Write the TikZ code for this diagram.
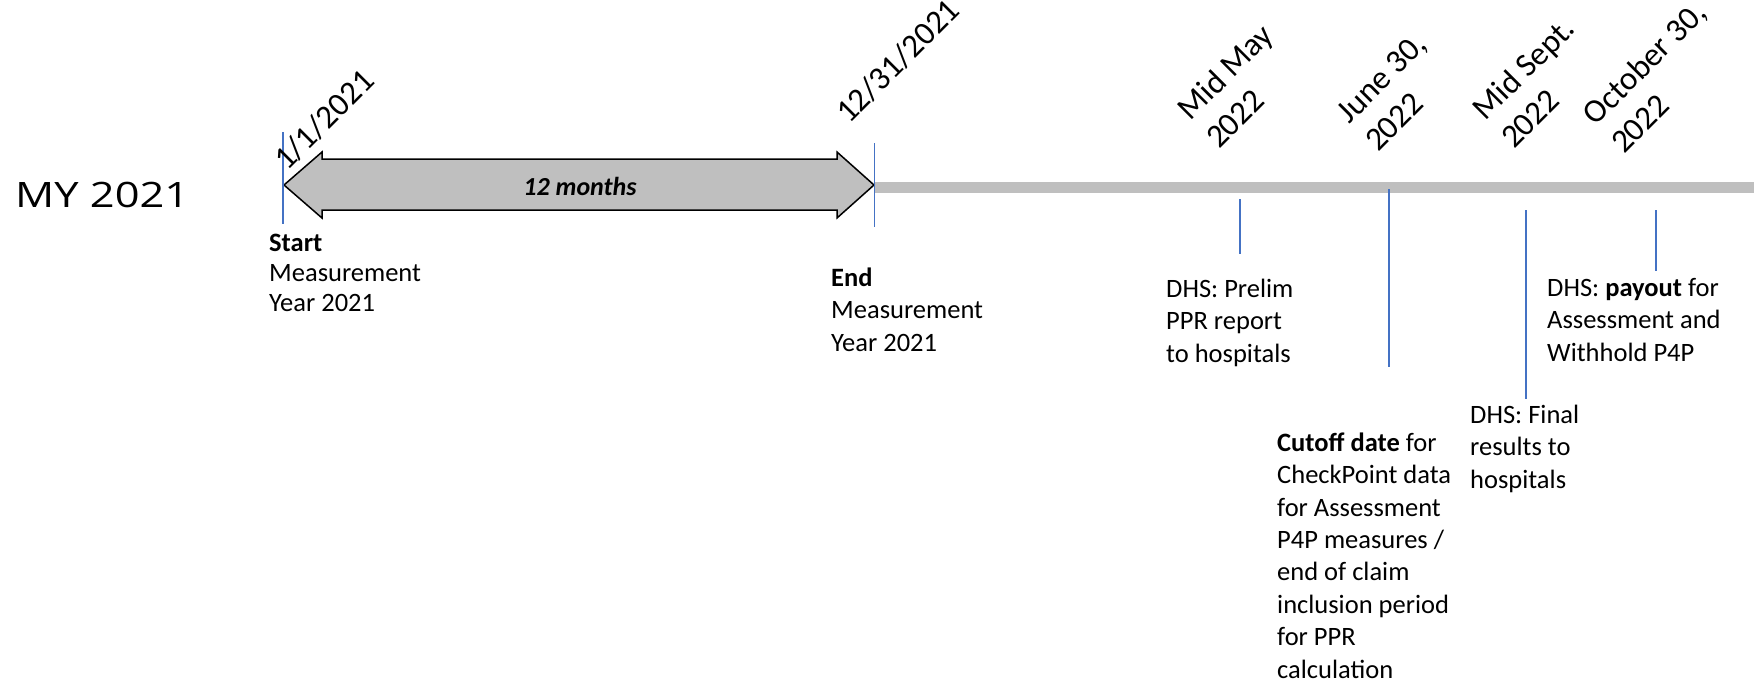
\documentclass[tikz,border=0pt]{standalone}
\usepackage{fontspec}
\setmainfont{Carlito}
\newfontfamily\myfont{Open Sans}
\definecolor{tickblue}{HTML}{4472C4}
\definecolor{bandgray}{HTML}{BFBFBF}
\begin{document}
\begin{tikzpicture}[x=1pt,y=-1pt,
  lbl/.style={font=\fontsize{26.5}{32.4}\selectfont, align=left, inner sep=0pt, anchor=base west},
  rot/.style={font=\fontsize{33}{40}\selectfont, align=left, inner sep=0pt, anchor=base west, rotate=45},
  tickline/.style={draw=tickblue, line width=1.5pt},
  period/.style={fill=bandgray, draw=black, line width=1.5pt, line join=miter}]
\useasboundingbox (0,0) rectangle (1754,683);

% coordinates
\coordinate (L) at (284,185);
\coordinate (R) at (874,185);
\coordinate (bandEnd) at (1754,187.5);

% band
\draw[bandgray, line width=11pt] (874,187.5) -- (bandEnd);

% double arrow
\path[period] (L) -- (322,152) -- (322,159) -- (837,159) -- (837,152) -- (R)
  -- (837,218) -- (837,210) -- (322,210) -- (322,218) -- cycle;
\node[font=\bfseries\itshape\fontsize{26}{30}\selectfont, anchor=base, inner sep=0pt] (months) at (580,195) {12 months};

% ticks
\draw[tickline] (283,132) -- (283,224);
\draw[tickline] (874.5,143) -- (874.5,227);
\draw[tickline] (1240,199) -- (1240,254);
\draw[tickline] (1389,189) -- (1389,367);
\draw[tickline] (1526,210) -- (1526,399);
\draw[tickline] (1656,210) -- (1656,271);

% title
\node[font=\myfont\fontsize{35}{40}\selectfont, anchor=base west, inner sep=0pt, xscale=1.24] (my) at (15,207) {MY 2021};

% rotated dates (anchor = baseline start of last line)
\node[rot] (d1) at (287,172) {1/1/2021};
\node[rot] (d2) at (849,125) {12/31/2021};
\node[rot] (d3) at (1219,150) {Mid May\\2022};
\node[rot] (d4) at (1378,153) {June 30,\\2022};
\node[rot] (d5) at (1514,150) {Mid Sept.\\2022};
\node[rot] (d6) at (1624,155) {October 30,\\2022};

% descriptions (anchor = baseline start of last line)
\node[lbl, font=\fontsize{26.5}{30}\selectfont] (t1) at (269,311) {\textbf{Start}\\Measurement\\Year 2021};
\node[lbl] (t2) at (831,351) {\textbf{End}\\Measurement\\Year 2021};
\node[lbl] (t3) at (1166,362) {DHS: Prelim\\PPR report\\to hospitals};
\node[lbl] (t4) at (1547,361) {DHS: \textbf{payout} for\\Assessment and\\Withhold P4P};
\node[lbl] (t5) at (1277,678) {\textbf{Cutoff date} for\\CheckPoint data\\for Assessment\\P4P measures /\\end of claim\\inclusion period\\for PPR\\calculation};
\node[lbl] (t6) at (1470,488) {DHS: Final\\results to\\hospitals};
\end{tikzpicture}
\end{document}
